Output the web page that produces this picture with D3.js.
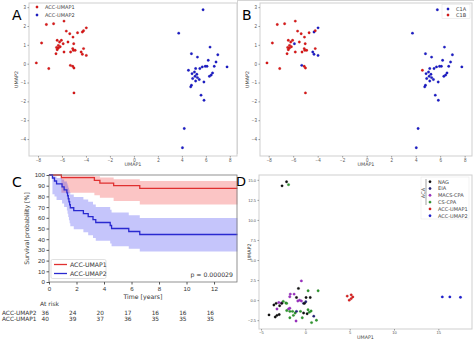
<!DOCTYPE html>
<html>
<head>
<meta charset="utf-8">
<script src="https://cdn.jsdelivr.net/npm/d3@7"></script>
<style>
  body { margin: 0; background: #fff; }
  svg { font-family: "DejaVu Sans", sans-serif; }
</style>
</head>
<body>
<svg id="fig" width="474" height="341"></svg>
<script>
// UMAP embedding of the ACC samples (panels A and B)
var umapX = [-8.14, -7.3, -7.7, -7.1, -6.7, -5.83, -5.64, -6.3, -6.4, -6.4, -6.45, -6.5, -6.2, -6.05, -6.15, -6.3,
  -5.9, -5.83, -5.5, -5.35, -5.08, -5.02, -5.1, -5.28, -5.05, -4.9, -4.7, -4.3, -4.2, -3.97, -4.4, -4.3, -4.2,
  -3.97, -5.3, -5.1, -5.0, -5.0,
  5.77, 3.74, 4.8, 5.3, 6.35, 6.2, 7.0, 6.85, 7.77, 6.7, 5.95, 6.1, 5.7, 5.5, 5.15, 4.55, 5.05, 4.85, 5.25, 5.1,
  4.9, 5.3, 5.45, 5.15, 6.56, 6.45, 6.3, 5.84, 4.8, 4.74, 5.6, 5.85, 4.2, 4.05];
var umapY = [0.04, 2.08, 1.1, -0.26, 2.12, 2.26, 1.73, 0.97, 1.24, 0.74, 0.86, 0.53, 1.15, 1.24, 0.9, 0.83,
  1.06, 0.62, 1.15, 1.59, 1.41, 1.06, 0.8, 0.62, 0.71, 0.71, 1.64, 1.68, 1.75, 1.9, 0.62, 0.5, 0.8,
  0.44, -0.09, -0.14, -0.23, -1.55,
  2.86, 1.62, 0.53, 0.35, 0.88, 0.18, 0.47, 0.09, -0.17, -0.14, -0.14, -0.14, -0.17, -0.26, -0.26, -0.35, -0.44,
  -0.53, -0.56, -0.67, -0.79, -0.74, -0.84, -0.92, -0.49, -0.6, -0.67, -0.97, -1.14, -1.23, -1.67, -1.94, -3.44, -4.46];
// 1 = ACC-UMAP1, 2 = ACC-UMAP2
var umapGroup = umapX.map(function(x) { return x < 0 ? 1 : 2; });
// C1A / C1B class of each sample (same order)
var c1Class = ["B","B","B","B","B","B","B","B","B","B","B","B","B","B","B","B",
  "A","B","B","B","B","B","B","B","B","B","B","A","B","A","A","A","B",
  "A","A","B","B","B",
  "A","A","A","A","A","A","A","A","A","A","A","A","A","A","A","B","A",
  "A","A","A","A","A","A","A","A","A","A","A","A","A","A","A","A","A"];

// Kaplan-Meier estimates (panel C)
var kmTime1 = [0, 0.9, 3.3, 3.7, 4.7, 6.6, 13.7];
var kmSurv1 = [100, 97.5, 95, 92.5, 90, 87.5, 87.5];
var kmLow1 = [100, 83.5, 81.0, 78.8, 75.8, 72.5, 72.5];
var kmHigh1 = [100, 99.6, 98.8, 97.6, 96.1, 94.5, 94.5];
var kmTime2 = [0, 0.25, 0.4, 0.55, 0.95, 1.1, 1.3, 1.35, 1.4, 1.45, 1.5, 1.55, 1.8, 2.5, 2.85, 3.2, 3.4, 4.45, 4.55, 5.8, 6.6, 13.7];
var kmSurv2 = [100, 97.2, 94.4, 91.7, 88.9, 86.1, 83.3, 80.6, 77.8, 75, 72.2, 69.4, 66.7, 63.9, 61.1, 58.3, 55.6, 52.8, 50, 47.2, 44.4, 44.4];
var kmLow2 = [100, 81.9, 79.9, 76.7, 73.3, 70.0, 66.8, 63.8, 60.8, 57.8, 54.9, 52.0, 49.3, 46.5, 43.8, 41.1, 38.6, 36.0, 33.5, 31.0, 28.5, 28.5];
var kmHigh2 = [100, 99.6, 98.6, 97.2, 95.7, 94.0, 92.1, 90.2, 88.2, 86.1, 84.0, 81.8, 79.5, 77.2, 74.9, 72.5, 70.0, 67.5, 65.0, 62.5, 59.9, 59.9];
var riskTimes = [0, 2, 4, 6, 8, 10, 12];
var riskUmap2 = [36, 24, 20, 17, 16, 16, 16];
var riskUmap1 = [40, 39, 37, 36, 35, 35, 35];

// Joint embedding with ACA cohort (panel D)
var acaNames = ["NAG", "EIA", "MACS-CPA", "CS-CPA", "ACC-UMAP1", "ACC-UMAP2"];
var acaX = [-2.63, -2.12, -1.9,
  -0.45, -0.78, 1.44, 0.31, -1.27, -1.76, -1.7, -1.0, 0.08, 0.55, -0.65, -0.85, -0.2, -0.45, 0.05, -0.1,
  -3.3, -3.0, -2.7, -2.5, -2.2, -2.1, -3.55, -3.2, -2.9, -2.65, -1.9, -1.75, -1.75, -2.1, -1.45, -1.15,
  -1.0, -0.55, -0.2, 0.3, 0.2, 0.45, 0.65, 0.95, -0.35, -1.75, -1.35, -3.2, -3.4, -2.95, -4.1, -1.05, 0.7, 1.25,
  4.72, 5.17, 5.17, 4.95, 5.35,
  15.45, 16.3, 17.5];
var acaY = [14.25, 14.75, 14.4,
  2.4, 1.46, 1.16, 1.16, 0.75, 0.42, 0.75, 0.33, 0.33, 0.33, 0.0, -0.1, -0.4, -0.1, -0.2, -0.4,
  -0.4, -0.3, -0.35, -0.15, -0.35, -0.4, -0.6, -1.1, -0.7, -0.4, -1.1, -1.0, -1.4, -1.3, -1.4, -1.6,
  -1.4, -1.4, -1.6, -1.2, -1.7, -1.5, -1.35, -2.0, -2.2, -2.2, -1.9, -1.9, -2.1, -1.8, -1.84, -2.6, -2.8, -2.5,
  0.5, 0.66, 0.19, 0.0, 0.4,
  0.4, 0.4, 0.35];
var acaGroup = [0, 0, 3,
  2, 0, 3, 3, 2, 2, 2, 0, 0, 0, 2, 2, 1, 2, 1, 0,
  0, 2, 2, 3, 3, 3, 0, 2, 0, 0, 2, 2, 3, 3, 3, 3,
  1, 3, 0, 3, 0, 3, 3, 1, 3, 3, 3, 0, 0, 0, 0, 2, 3, 3,
  4, 4, 4, 4, 4,
  5, 5, 5];
var acaColors = ["#111111", "#22227a", "#a030c8", "#2e9a2e", "#e02020", "#2020d8"];

var svg = d3.select("#fig");
var RED = "#e01818", BLUE = "#1c1ccc";

// generic scatter panel with light seaborn-like frame
function scatterPanel(box, xDom, yDom, xTicks, yTicks, yFmt, fs) {
  var x = d3.scaleLinear().domain(xDom).range([box.l, box.r]);
  var y = d3.scaleLinear().domain(yDom).range([box.b, box.t]);
  var g = svg.append("g");
  g.append("rect").attr("x", box.l).attr("y", box.t)
    .attr("width", box.r - box.l).attr("height", box.b - box.t)
    .attr("fill", "#fff").attr("stroke", "#cfcfcf").attr("stroke-width", 1);
  var xa = g.append("g").attr("transform", "translate(0," + box.b + ")")
    .call(d3.axisBottom(x).tickValues(xTicks).tickSize(1.5).tickPadding(1).tickFormat(d3.format("d")));
  var ya = g.append("g").attr("transform", "translate(" + box.l + ",0)")
    .call(d3.axisLeft(y).tickValues(yTicks).tickSize(1.5).tickPadding(1.5).tickFormat(yFmt || d3.format("d")));
  [xa, ya].forEach(function(a) {
    a.select(".domain").remove();
    a.selectAll("line").attr("stroke", "#999");
    a.selectAll("text").attr("fill", "#555").style("font-size", (fs || 4.5) + "px");
  });
  return {x: x, y: y, g: g};
}

function dot(g, cx, cy, col) {
  g.append("circle").attr("cx", cx).attr("cy", cy).attr("r", 1.2)
    .attr("fill", col).attr("stroke", d3.color(col).darker(0.8)).attr("stroke-width", 0.3);
}

function axisTitles(box, xLab, yLab, yLabX) {
  svg.append("text").attr("x", (box.l + box.r) / 2).attr("y", box.b + 9.5)
    .attr("text-anchor", "middle").attr("fill", "#444").style("font-size", "4.8px").text(xLab);
  svg.append("text").attr("transform", "translate(" + yLabX + "," + (box.t + box.b) / 2 + ") rotate(-90)")
    .attr("text-anchor", "middle").attr("fill", "#444").style("font-size", "4.8px").text(yLab);
}

function panelLetter(txt, x, y, size) {
  svg.append("text").attr("x", x).attr("y", y).style("font-size", (size || 14) + "px").attr("fill", "#000").text(txt);
}

// ---- Panel A ----
var boxA = {l: 29, r: 237, t: 3, b: 156};
var pA = scatterPanel(boxA, [-8.75, 8.6], [-4.9, 3.22], d3.range(-8, 9, 2), d3.range(-4, 4, 1));
umapX.forEach(function(v, i) {
  dot(pA.g, pA.x(v), pA.y(umapY[i]), umapGroup[i] === 1 ? RED : BLUE);
});
axisTitles(boxA, "UMAP1", "UMAP2", 18);
[["ACC-UMAP1", RED], ["ACC-UMAP2", BLUE]].forEach(function(d, i) {
  dot(pA.g, 37, 7 + i * 8, d[1]);
  pA.g.append("text").attr("x", 45).attr("y", 8.8 + i * 8).style("font-size", "5px").attr("fill", "#444").text(d[0]);
});
panelLetter("A", 12, 19.5);

// ---- Panel B ----
var boxB = {l: 260, r: 472, t: 3, b: 156};
var pB = scatterPanel(boxB, [-8.71, 8.6], [-4.9, 3.22], d3.range(-8, 9, 2), d3.range(-4, 4, 1));
umapX.forEach(function(v, i) {
  dot(pB.g, pB.x(v), pB.y(umapY[i]), c1Class[i] === "A" ? BLUE : RED);
});
axisTitles(boxB, "UMAP1", "UMAP2", 249);
pB.g.append("rect").attr("x", 442).attr("y", 4.5).attr("width", 28).attr("height", 14)
  .attr("fill", "#fff").attr("stroke", "#e2e2e2").attr("stroke-width", 0.5);
[["C1A", BLUE], ["C1B", RED]].forEach(function(d, i) {
  dot(pB.g, 448, 9 + i * 6, d[1]);
  pB.g.append("text").attr("x", 456).attr("y", 10.8 + i * 6).style("font-size", "5px").attr("fill", "#444").text(d[0]);
});
svg.append("line").attr("x1", 237.5).attr("x2", 237.5).attr("y1", 0).attr("y2", 154).attr("stroke", "#d5d5d5");
svg.append("line").attr("x1", 237).attr("x2", 474).attr("y1", 0.5).attr("y2", 0.5).attr("stroke", "#d5d5d5");
panelLetter("B", 242, 19.5);

// ---- Panel C: Kaplan-Meier ----
var boxC = {l: 49, r: 237, t: 175, b: 282};
var xC = d3.scaleLinear().domain([0, 13.67]).range([boxC.l, boxC.r]);
var yC = d3.scaleLinear().domain([0, 100]).range([boxC.b, boxC.t]);
var gC = svg.append("g");

function band(times, low, high, col) {
  var pts = times.map(function(t, i) { return {t: t, lo: low[i], hi: high[i]}; });
  gC.append("path").datum(pts)
    .attr("d", d3.area().curve(d3.curveStepAfter)
      .x(function(d) { return xC(d.t); })
      .y0(function(d) { return yC(d.lo); })
      .y1(function(d) { return yC(d.hi); }))
    .attr("fill", col).attr("opacity", 0.28);
}
function kmLine(times, surv, col) {
  var pts = times.map(function(t, i) { return [xC(t), yC(surv[i])]; });
  gC.append("path").attr("d", d3.line().curve(d3.curveStepAfter)(pts))
    .attr("fill", "none").attr("stroke", col).attr("stroke-width", 1.3);
}
band(kmTime1, kmLow1, kmHigh1, "#f03030");
band(kmTime2, kmLow2, kmHigh2, "#3030f0");
kmLine(kmTime1, kmSurv1, "#e03030");
kmLine(kmTime2, kmSurv2, "#2a2ad0");

gC.append("rect").attr("x", boxC.l).attr("y", boxC.t)
  .attr("width", boxC.r - boxC.l).attr("height", boxC.b - boxC.t)
  .attr("fill", "none").attr("stroke", "#777").attr("stroke-width", 0.8);
var xaC = gC.append("g").attr("transform", "translate(0," + boxC.b + ")")
  .call(d3.axisBottom(xC).tickValues(d3.range(0, 13, 2)).tickSize(2.5).tickPadding(2));
var yaC = gC.append("g").attr("transform", "translate(" + boxC.l + ",0)")
  .call(d3.axisLeft(yC).tickValues(d3.range(0, 101, 10)).tickSize(2.5).tickPadding(1.5));
[xaC, yaC].forEach(function(a) {
  a.select(".domain").remove();
  a.selectAll("line").attr("stroke", "#555");
  a.selectAll("text").attr("fill", "#333").style("font-size", "6.2px");
});
svg.append("text").attr("x", 143).attr("y", 299).attr("text-anchor", "middle")
  .attr("fill", "#333").style("font-size", "6.2px").text("Time [years]");
svg.append("text").attr("transform", "translate(29," + (boxC.t + boxC.b) / 2 + ") rotate(-90)")
  .attr("text-anchor", "middle").attr("fill", "#333").style("font-size", "6.2px").text("Survival probability [%]");

// legend
gC.append("rect").attr("x", 51).attr("y", 259.5).attr("width", 55).attr("height", 19)
  .attr("fill", "#fff").attr("fill-opacity", 0.85).attr("stroke", "#ccc").attr("stroke-width", 0.6).attr("rx", 1.5);
[["ACC-UMAP1", "#e03030"], ["ACC-UMAP2", "#2a2ad0"]].forEach(function(d, i) {
  var yy = 264.5 + i * 9;
  gC.append("line").attr("x1", 54).attr("x2", 67).attr("y1", yy).attr("y2", yy)
    .attr("stroke", d[1]).attr("stroke-width", 1.3);
  gC.append("text").attr("x", 70).attr("y", yy + 2.2).style("font-size", "6.2px").attr("fill", "#333").text(d[0]);
});
gC.append("text").attr("x", 233).attr("y", 276.5).attr("text-anchor", "end")
  .style("font-size", "6.2px").attr("fill", "#333").text("p = 0.000029");

// number at risk table
svg.append("text").attr("x", 40).attr("y", 306).style("font-size", "6px").attr("fill", "#333").text("At risk");
[["ACC-UMAP2", riskUmap2], ["ACC-UMAP1", riskUmap1]].forEach(function(row, i) {
  var yy = 314.5 + i * 6.5;
  svg.append("text").attr("x", 2).attr("y", yy).style("font-size", "5.8px").attr("fill", "#333").text(row[0]);
  riskTimes.forEach(function(t, j) {
    svg.append("text").attr("x", xC(t)).attr("y", yy).attr("text-anchor", "end")
      .style("font-size", "5.8px").attr("fill", "#333").text(row[1][j]);
  });
});
panelLetter("C", 12, 187);

// ---- Panel D ----
var boxD = {l: 259, r: 472, t: 175, b: 329};
var pD = scatterPanel(boxD, [-5.23, 18.8], [-3.6, 15.6], d3.range(-5, 16, 5), d3.range(-2.5, 15.1, 2.5), d3.format(".1f"), 4);
acaX.forEach(function(v, i) {
  dot(pD.g, pD.x(v), pD.y(acaY[i]), acaColors[acaGroup[i]]);
});
axisTitles(boxD, "UMAP1", "UMAP2", 251);
pD.g.append("rect").attr("x", 421).attr("y", 177).attr("width", 48).attr("height", 42)
  .attr("fill", "#fff").attr("stroke", "#e6e6e6").attr("stroke-width", 0.5);
acaNames.forEach(function(n, i) {
  var yy = 181.7 + i * 6.8;
  dot(pD.g, 430, yy, acaColors[i]);
  pD.g.append("text").attr("x", 438).attr("y", yy + 1.8).style("font-size", "5px").attr("fill", "#444").text(n);
});
pD.g.append("line").attr("x1", 426).attr("x2", 426).attr("y1", 179).attr("y2", 205).attr("stroke", "#444").attr("stroke-width", 0.5);
pD.g.append("text").attr("transform", "translate(424.5,193) rotate(-90)").attr("text-anchor", "middle")
  .style("font-size", "5px").attr("fill", "#444").text("ACA");
panelLetter("D", 236, 185.5, 13);
</script>
</body>
</html>
